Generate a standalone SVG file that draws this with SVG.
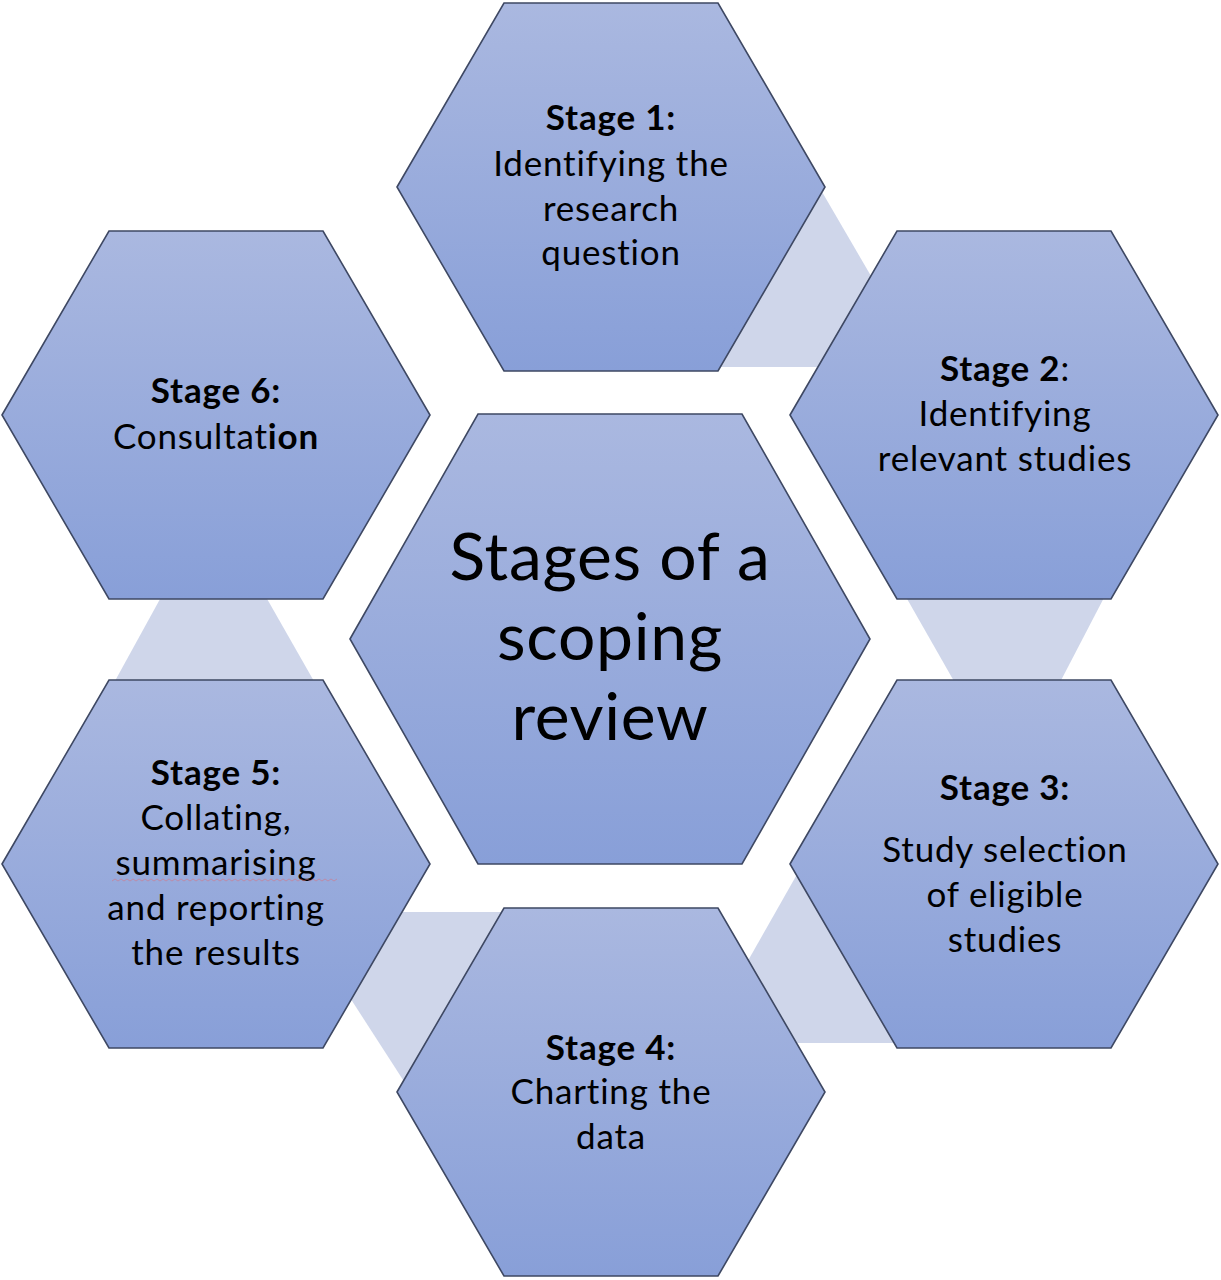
<svg xmlns="http://www.w3.org/2000/svg" width="1221" height="1280" viewBox="0 0 1221 1280">
<style>
.hex{fill:url(#g);stroke:#3E4863;stroke-width:1.6;stroke-linejoin:miter}
.link{fill:#CFD6EA;stroke:none}
.t{font-family:Lato,"Open Sans","Liberation Sans",sans-serif;font-size:35px;letter-spacing:0.8px;fill:#000;text-anchor:middle;font-variant-ligatures:none}
.b{font-weight:bold}
.c{font-family:Lato,"Open Sans","Liberation Sans",sans-serif;font-size:66px;letter-spacing:0.7px;fill:#000;text-anchor:middle;font-variant-ligatures:none}
</style>
<defs>
<linearGradient id="g" x1="0" y1="0" x2="0" y2="1">
<stop offset="0" stop-color="#AAB8E0"/>
<stop offset="1" stop-color="#889FD8"/>
</linearGradient>
<polygon id="hx" points="-214,0 -107,-184 107,-184 214,0 107,184 -107,184"/>
</defs>
<rect width="1221" height="1280" fill="#fff"/>
<g id="connectors">
<polygon class="link" points="818,185 885,300 835,367 715,367"/>
<polygon class="link" points="902,590 1108,590 1056,690 959,690"/>
<polygon class="link" points="804,862 737,980 780,1043 900,1043"/>
<polygon class="link" points="395,912 510,912 416,1100 345,990"/>
<polygon class="link" points="165,590 262,590 319,690 110,690"/>
</g>
<g id="center">
<polygon class="hex" points="350,639 478,414 742,414 870,639 742,864 478,864"/>
<text class="c" x="610" y="580">Stages of a</text>
<text class="c" x="610" y="660">scoping</text>
<text class="c" x="610" y="740">review</text>
</g>
<g id="stage1">
<use href="#hx" class="hex" x="611" y="187"/>
<text class="t b" x="611" y="130">Stage 1:</text>
<text class="t" x="611" y="176">Identifying the</text>
<text class="t" x="611" y="221">research</text>
<text class="t" x="611" y="265">question</text>
</g>
<g id="stage2">
<use href="#hx" class="hex" x="1004" y="415"/>
<text class="t" x="1005" y="381"><tspan class="b">Stage 2</tspan>:</text>
<text class="t" x="1005" y="426">Identifying</text>
<text class="t" x="1005" y="471">relevant studies</text>
</g>
<g id="stage3">
<use href="#hx" class="hex" x="1004" y="864"/>
<text class="t b" x="1005" y="800">Stage 3:</text>
<text class="t" x="1005" y="862">Study selection</text>
<text class="t" x="1005" y="907">of eligible</text>
<text class="t" x="1005" y="952">studies</text>
</g>
<g id="stage4">
<use href="#hx" class="hex" x="611" y="1092"/>
<text class="t b" x="611" y="1060">Stage 4:</text>
<text class="t" x="611" y="1104">Charting the</text>
<text class="t" x="611" y="1149">data</text>
</g>
<g id="stage5">
<use href="#hx" class="hex" x="216" y="864"/>
<text class="t b" x="216" y="785">Stage 5:</text>
<text class="t" x="216" y="830">Collating,</text>
<text class="t" x="216" y="875">summarising</text>
<path d="M112,881 l3,-2 l3,2 l3,-2 l3,2 l3,-2 l3,2 l3,-2 l3,2 l3,-2 l3,2 l3,-2 l3,2 l3,-2 l3,2 l3,-2 l3,2 l3,-2 l3,2 l3,-2 l3,2 l3,-2 l3,2 l3,-2 l3,2 l3,-2 l3,2 l3,-2 l3,2 l3,-2 l3,2 l3,-2 l3,2 l3,-2 l3,2 l3,-2 l3,2 l3,-2 l3,2 l3,-2 l3,2 l3,-2 l3,2 l3,-2 l3,2 l3,-2 l3,2 l3,-2 l3,2 l3,-2 l3,2 l3,-2 l3,2 l3,-2 l3,2 l3,-2 l3,2 l3,-2 l3,2 l3,-2 l3,2 l3,-2 l3,2 l3,-2 l3,2 l3,-2 l3,2 l3,-2 l3,2 l3,-2 l3,2 l3,-2 l3,2 l3,-2 l3,2 l3,-2" fill="none" stroke="#D9707A" stroke-width="0.9" opacity="0.6"/>
<text class="t" x="216" y="920">and reporting</text>
<text class="t" x="216" y="965">the results</text>
</g>
<g id="stage6">
<use href="#hx" class="hex" x="216" y="415"/>
<text class="t b" x="216" y="403">Stage 6:</text>
<text class="t" x="216" y="449">Consultat<tspan class="b">ion</tspan></text>
</g>
</svg>
